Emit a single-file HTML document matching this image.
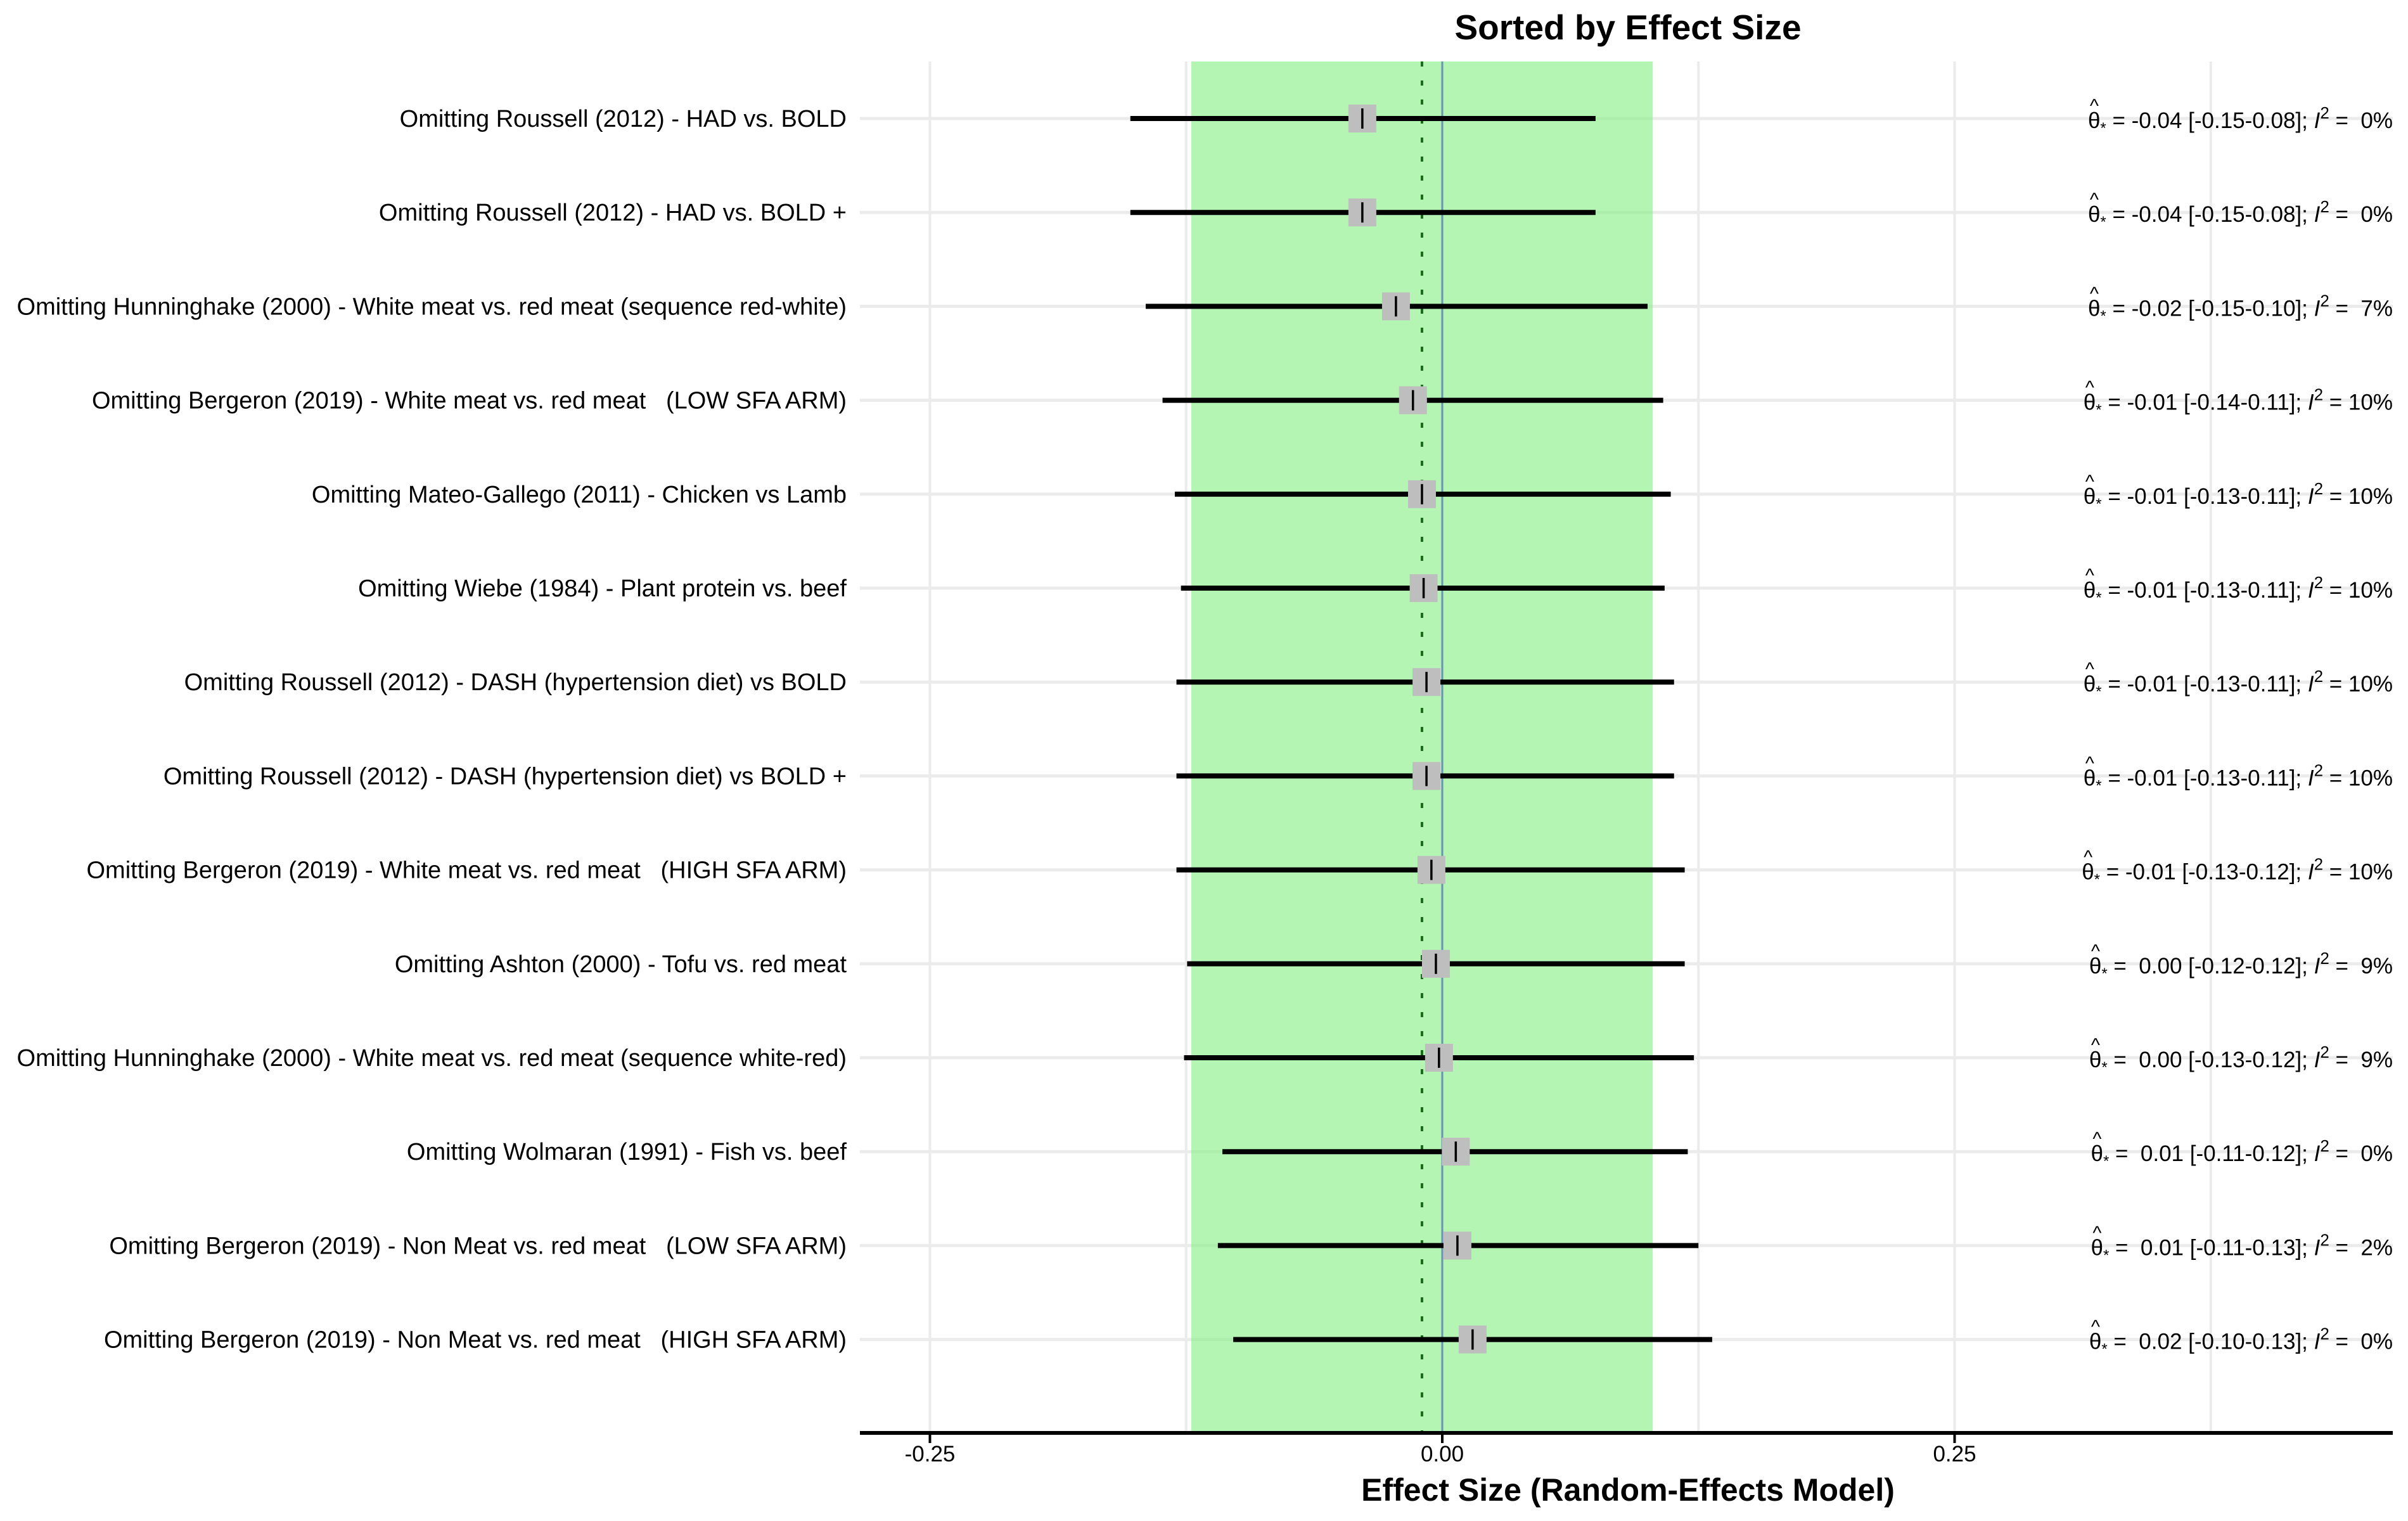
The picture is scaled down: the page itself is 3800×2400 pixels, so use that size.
<!DOCTYPE html>
<html><head><meta charset="utf-8"><style>
html,body{margin:0;padding:0;background:#fff;}
svg{display:block;font-family:"Liberation Sans",Arial,sans-serif;}
svg text{white-space:pre;}
</style></head><body>
<svg id="chart" width="3800" height="2400" viewBox="0 0 3800 2400"></svg>
<script>
const studies = [
"Omitting Roussell (2012) - HAD vs. BOLD",
"Omitting Roussell (2012) - HAD vs. BOLD +",
"Omitting Hunninghake (2000) - White meat vs. red meat (sequence red-white)",
"Omitting Bergeron (2019) - White meat vs. red meat   (LOW SFA ARM)",
"Omitting Mateo-Gallego (2011) - Chicken vs Lamb",
"Omitting Wiebe (1984) - Plant protein vs. beef",
"Omitting Roussell (2012) - DASH (hypertension diet) vs BOLD",
"Omitting Roussell (2012) - DASH (hypertension diet) vs BOLD +",
"Omitting Bergeron (2019) - White meat vs. red meat   (HIGH SFA ARM)",
"Omitting Ashton (2000) - Tofu vs. red meat",
"Omitting Hunninghake (2000) - White meat vs. red meat (sequence white-red)",
"Omitting Wolmaran (1991) - Fish vs. beef",
"Omitting Bergeron (2019) - Non Meat vs. red meat   (LOW SFA ARM)",
"Omitting Bergeron (2019) - Non Meat vs. red meat   (HIGH SFA ARM)"];
const estimates = [-0.039,-0.039,-0.0226,-0.0143,-0.0099,-0.0091,-0.0077,-0.0077,-0.0053,-0.0031,-0.0016,0.0066,0.0074,0.0148];
const lower = [-0.1522,-0.1522,-0.1447,-0.1365,-0.1305,-0.1275,-0.1297,-0.1297,-0.1297,-0.1245,-0.1260,-0.1073,-0.1095,-0.1020];
const upper = [0.0748,0.0748,0.1002,0.1078,0.1115,0.1085,0.1131,0.1131,0.1183,0.1183,0.1228,0.1198,0.1250,0.1317];
const estLabels = ["-0.04","-0.04","-0.02","-0.01","-0.01","-0.01","-0.01","-0.01","-0.01"," 0.00"," 0.00"," 0.01"," 0.01"," 0.02"];
const ciLabels = ["[-0.15-0.08]","[-0.15-0.08]","[-0.15-0.10]","[-0.14-0.11]","[-0.13-0.11]","[-0.13-0.11]","[-0.13-0.11]","[-0.13-0.11]","[-0.13-0.12]","[-0.12-0.12]","[-0.13-0.12]","[-0.11-0.12]","[-0.11-0.13]","[-0.10-0.13]"];
const i2Labels = [" 0%"," 0%"," 7%","10%","10%","10%","10%","10%","10%"," 9%"," 9%"," 0%"," 2%"," 0%"];
const pooledBand = [-0.1225, 0.1027];
const pooledEstimate = -0.0099;
const xTicks = [-0.25, 0, 0.25];
const xTickLabels = ["-0.25","0.00","0.25"];
const xMinor = [-0.125, 0.125, 0.375];

const NS="http://www.w3.org/2000/svg";
const svg=document.getElementById('chart');
const L=1357,R=3776,T=97,B=2261;
const x=v=>2276+v*3234;
const y=i=>187+i*148.2;
function mk(tag,attrs,parent){const e=document.createElementNS(NS,tag);for(const k in attrs)e.setAttribute(k,attrs[k]);(parent||svg).appendChild(e);return e;}

let t=mk('text',{x:2569,y:62,'text-anchor':'middle','font-size':55,'font-weight':'bold'});
t.textContent="Sorted by Effect Size";



xMinor.concat(xTicks).forEach(v=>{const g=mk('line',{x1:x(v),x2:x(v),y1:T,y2:B,stroke:'#ebebeb','stroke-width':4});

});
studies.forEach((s,i)=>{const g=mk('line',{x1:L,x2:R,y1:y(i),y2:y(i),stroke:'#ebebeb','stroke-width':5});

});

let band=mk('rect',{x:x(pooledBand[0]),y:T,width:x(pooledBand[1])-x(pooledBand[0]),height:B-T,fill:'#8ef08a','fill-opacity':0.65});


let zl=mk('line',{x1:x(0),x2:x(0),y1:T,y2:B,stroke:'#6b93b5','stroke-width':3});


let pl=mk('line',{x1:x(pooledEstimate),x2:x(pooledEstimate),y1:T,y2:B,stroke:'#1a6b1a','stroke-width':4,'stroke-dasharray':'8 22'});



studies.forEach((s,i)=>{
  const yy=y(i);
  const lab=mk('text',{x:1336,y:yy+13,'text-anchor':'end','font-size':38});
  lab.textContent=s;
  
  
  const ci=mk('line',{x1:x(lower[i]),x2:x(upper[i]),y1:yy,y2:yy,stroke:'#000','stroke-width':8});
  
  
  const box=mk('rect',{x:x(estimates[i])-22,y:yy-22,width:44,height:44,fill:'#bebebe'});
  
  
  const tk=mk('line',{x1:x(estimates[i]),x2:x(estimates[i]),y1:yy-16,y2:yy+16,stroke:'#000','stroke-width':3.5});
  
  
  const an=mk('text',{x:3776,y:yy+15,'text-anchor':'end','font-size':35});
  
  
  const th=mk('tspan',{},an);th.textContent="θ";
  const st=mk('tspan',{dy:8,'font-size':24},an);st.textContent="*";
  const r1=mk('tspan',{dy:-8},an);r1.textContent=" = "+estLabels[i]+" "+ciLabels[i]+"; ";
  const ii=mk('tspan',{'font-style':'italic'},an);ii.textContent="I";
  const sp=mk('tspan',{dy:-15,'font-size':26},an);sp.textContent="2";
  const r2=mk('tspan',{dy:15},an);r2.textContent=" = "+i2Labels[i];
  try{const p=an.getStartPositionOfChar(0);
    const hat=mk('text',{x:p.x+10,y:yy-10,'text-anchor':'middle','font-size':30});
    hat.textContent="^";
    
    }catch(e){}
});

let ax=mk('line',{x1:L,x2:R,y1:B,y2:B,stroke:'#000','stroke-width':6});


xTicks.forEach((v,i)=>{
  const tk=mk('line',{x1:x(v),x2:x(v),y1:B,y2:B+16,stroke:'#000','stroke-width':4});
  
  
  const tl=mk('text',{x:x(v),y:2306,'text-anchor':'middle','font-size':35});
  tl.textContent=xTickLabels[i];
  
  
});
let xt=mk('text',{x:2569,y:2368,'text-anchor':'middle','font-size':50,'font-weight':'bold'});
xt.textContent="Effect Size (Random-Effects Model)";


</script>
</body></html>
